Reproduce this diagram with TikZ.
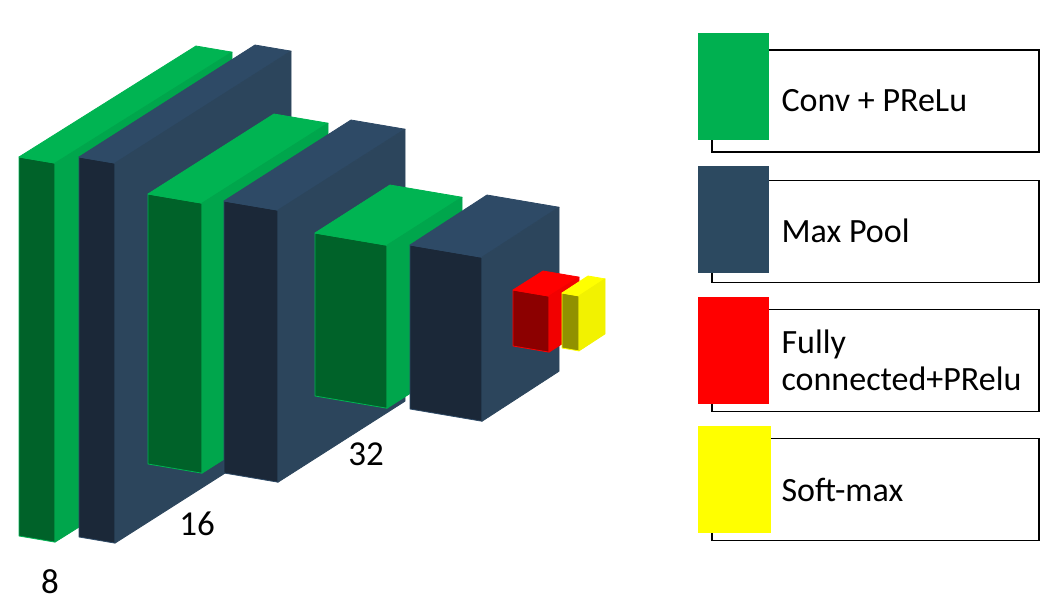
\documentclass[tikz,border=0pt]{standalone}
\usepackage{fontspec}
\setmainfont{Carlito}
\usetikzlibrary{positioning}

\definecolor{convfront}{RGB}{0,98,41}
\definecolor{convtop}{RGB}{0,180,82}
\definecolor{convside}{RGB}{0,166,76}
\definecolor{convkey}{RGB}{0,176,80}
\definecolor{poolfront}{RGB}{27,40,56}
\definecolor{pooltop}{RGB}{46,74,102}
\definecolor{poolside}{RGB}{44,69,92}
\definecolor{poolkey}{RGB}{44,73,96}
\definecolor{fcfront}{RGB}{140,0,0}
\definecolor{fctop}{RGB}{255,0,0}
\definecolor{fcside}{RGB}{242,0,0}
\definecolor{smfront}{RGB}{145,145,0}
\definecolor{smtop}{RGB}{255,255,0}
\definecolor{smside}{RGB}{242,242,0}

% 層の直方体: x, y, 幅, 高さ, 奥行きdx, dy, 前面, 上面, 側面
\newcommand{\cnnlayer}[9]{%
  \filldraw[fill=#7, draw=#8, line width=0.8pt, line join=round]
    (#1,#2) -- ++(#3,0.17*#3) -- ++(0,#4) -- ++(-#3,-0.17*#3) -- cycle;
  \filldraw[fill=#8, draw=#8, line width=0.8pt, line join=round]
    (#1,#2) -- ++(#3,0.17*#3) -- ++(#5,#6) -- ++(-#3,-0.17*#3) -- cycle;
  \filldraw[fill=#9, draw=#9, line width=0.8pt, line join=round]
    (#1+#3,#2+0.17*#3) -- ++(#5,#6) -- ++(0,#4) -- ++(-#5,-#6) -- cycle;
}

\tikzset{
  legbox/.style={draw=black, line width=1.2pt, minimum width=327pt, minimum height=102pt, inner sep=0pt},
  keysq/.style={minimum width=71pt, minimum height=107pt, inner sep=0pt, anchor=south west},
  legtext/.style={anchor=west, align=left, inner sep=0pt, font=\fontsize{34}{37}\selectfont},
  sizelabel/.style={font=\fontsize{35}{40}\selectfont},
}

\begin{document}
\begin{tikzpicture}[x=1pt, y=-1pt]
    \useasboundingbox (0,0) rectangle (1060,612);

    % --- 1. 層 (左から順に描く) ---
    \cnnlayer{19}{157}{36}{379}{177}{-111}{convfront}{convtop}{convside}
    \cnnlayer{79}{157}{36}{380}{176}{-112}{poolfront}{pooltop}{poolside}
    \cnnlayer{148}{194}{54}{270}{126}{-80}{convfront}{convtop}{convside}
    \cnnlayer{224}{201}{54}{272}{127}{-81}{poolfront}{pooltop}{poolside}
    \cnnlayer{315}{233}{72}{163}{75}{-48}{convfront}{convtop}{convside}
    \cnnlayer{410}{245}{72}{164}{77}{-50}{poolfront}{pooltop}{poolside}
    \cnnlayer{513}{290}{36}{56}{30}{-19}{fcfront}{fctop}{fcside}
    \cnnlayer{562}{293}{17}{55}{26}{-17}{smfront}{smtop}{smside}

    % --- 2. サイズのラベル ---
    \node[sizelabel] (n8)  at (50,582)  {8};
    \node[sizelabel] (n16) at (197,524) {16};
    \node[sizelabel] (n32) at (366,454) {32};

    % --- 3. 凡例 ---
    \node[legbox] (convbox) at (875.5,101) {};
    \node[legbox, below=27pt of convbox] (poolbox) {};
    \node[legbox, below=26pt of poolbox] (fcbox) {};
    \node[legbox, below=26pt of fcbox] (smbox) {};

    \node[keysq, fill=convkey] (convsq) at ([xshift=-14pt,yshift=12pt]convbox.south west) {};
    \node[keysq, fill=poolkey] (poolsq) at ([xshift=-14pt,yshift=10pt]poolbox.south west) {};
    \node[keysq, fill=fctop] (fcsq) at ([xshift=-14pt,yshift=8pt]fcbox.south west) {};
    \node[keysq, fill=smtop, minimum width=73pt] (smsq) at ([xshift=-14pt,yshift=8pt]smbox.south west) {};

    \node[legtext, right=70pt of convbox.west] (convtxt) {Conv + PReLu};
    \node[legtext, right=70pt of poolbox.west] (pooltxt) {Max Pool};
    \node[legtext, right=70pt of fcbox.west] (fctxt) {Fully\\connected+PRelu};
    \node[legtext, right=70pt of smbox.west] (smtxt) {Soft-max};

\end{tikzpicture}
\end{document}
